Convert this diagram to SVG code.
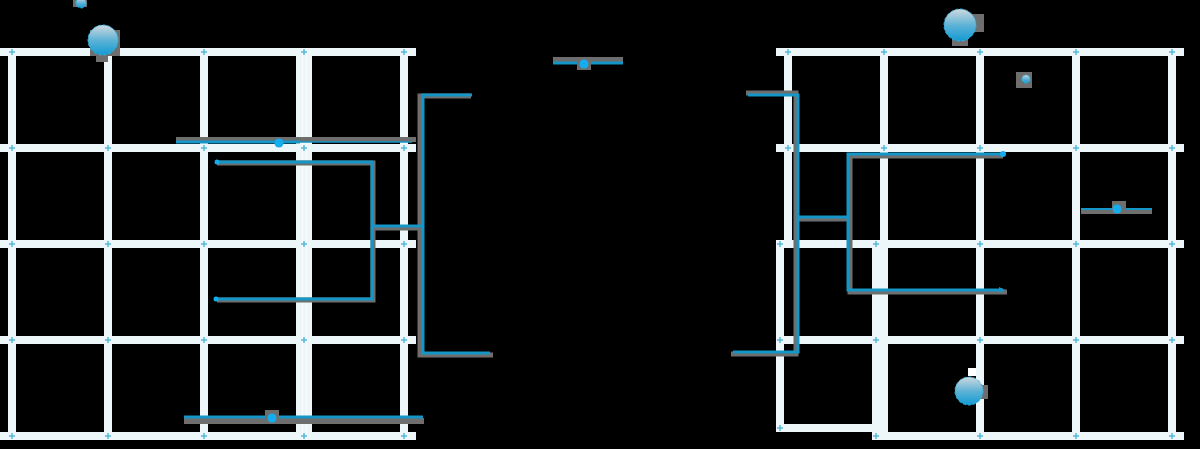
<svg xmlns="http://www.w3.org/2000/svg" width="1200" height="449" viewBox="0 0 1200 449">
<defs>
<linearGradient id="sph" x1="0" y1="0" x2="0" y2="1">
<stop offset="0" stop-color="#cfd9de"/>
<stop offset="0.5" stop-color="#5fb3d6"/>
<stop offset="1" stop-color="#129bd3"/>
</linearGradient>
<marker id="arr" markerWidth="6" markerHeight="6" refX="4" refY="3" orient="auto" markerUnits="userSpaceOnUse">
<path d="M0,0 L6,3 L0,6 Z" fill="#1596c8"/>
</marker>
</defs>
<style>
.g{fill:#edf6f9}
.m{stroke:#5ab8dc;stroke-width:1.5;fill:none}
.sh{stroke:#6e6e6e;stroke-width:5;fill:none;stroke-linejoin:miter}
.bl{stroke:#1596c8;stroke-width:3;fill:none;stroke-linejoin:miter}
.dot{fill:#14aef0}
.shb{fill:#6e6e6e}
.sp{fill:url(#sph);stroke:#2ab6e6;stroke-width:1;stroke-dasharray:3 2}
</style>
<rect width="1200" height="449" fill="#000"/>

<g id="grid-left">
<rect class="g" x="0" y="48" width="416" height="8"/>
<rect class="g" x="0" y="144" width="416" height="8"/>
<rect class="g" x="0" y="240" width="416" height="8"/>
<rect class="g" x="0" y="336" width="416" height="8"/>
<rect class="g" x="0" y="432" width="416" height="8"/>
<rect class="g" x="8" y="48" width="8" height="392"/>
<rect class="g" x="104" y="52" width="8" height="388"/>
<rect class="g" x="200" y="48" width="8" height="392"/>
<rect class="g" x="296" y="48" width="16" height="392"/>
<rect fill="#f8fcfd" x="302" y="48" width="1" height="392"/>
<rect fill="#f8fcfd" x="306" y="48" width="1" height="392"/>
<rect class="g" x="400" y="48" width="8" height="392"/>
<g class="m">
<path d="M9,52h6M12,49v6M105,52h6M108,49v6M201,52h6M204,49v6M301,52h6M304,49v6M401,52h6M404,49v6"/>
<path d="M9,148h6M12,145v6M105,148h6M108,145v6M201,148h6M204,145v6M301,148h6M304,145v6M401,148h6M404,145v6"/>
<path d="M9,244h6M12,241v6M105,244h6M108,241v6M201,244h6M204,241v6M301,244h6M304,241v6M401,244h6M404,241v6"/>
<path d="M9,340h6M12,337v6M105,340h6M108,337v6M201,340h6M204,337v6M301,340h6M304,337v6M401,340h6M404,337v6"/>
<path d="M9,436h6M12,433v6M105,436h6M108,433v6M201,436h6M204,433v6M301,436h6M304,433v6M401,436h6M404,433v6"/>
</g>
</g>

<g id="grid-right">
<rect class="g" x="776" y="48" width="408" height="8"/>
<rect class="g" x="776" y="144" width="408" height="8"/>
<rect class="g" x="776" y="240" width="408" height="8"/>
<rect class="g" x="776" y="336" width="408" height="8"/>
<rect class="g" x="872" y="432" width="312" height="8"/>
<rect class="g" x="776" y="424" width="104" height="8"/>
<rect class="g" x="784" y="48" width="8" height="200"/>
<rect class="g" x="776" y="240" width="8" height="192"/>
<rect class="g" x="880" y="48" width="8" height="392"/>
<rect class="g" x="872" y="240" width="8" height="196"/>
<rect class="g" x="976" y="48" width="8" height="392"/>
<rect class="g" x="1072" y="48" width="8" height="392"/>
<rect class="g" x="1168" y="48" width="8" height="392"/>
<g class="m">
<path d="M785,52h6M788,49v6M881,52h6M884,49v6M977,52h6M980,49v6M1073,52h6M1076,49v6M1169,52h6M1172,49v6"/>
<path d="M785,148h6M788,145v6M881,148h6M884,145v6M977,148h6M980,145v6M1073,148h6M1076,145v6M1169,148h6M1172,145v6"/>
<path d="M777,244h6M780,241v6M873,244h6M876,241v6M977,244h6M980,241v6M1073,244h6M1076,241v6M1169,244h6M1172,241v6"/>
<path d="M777,340h6M780,337v6M873,340h6M876,337v6M977,340h6M980,337v6M1073,340h6M1076,337v6M1169,340h6M1172,337v6"/>
<path d="M777,428h6M780,425v6M873,436h6M876,433v6M977,436h6M980,433v6M1073,436h6M1076,433v6M1169,436h6M1172,433v6"/>
</g>
</g>

<g id="connectors">
<rect class="shb" x="176" y="137" width="240" height="5"/>
<path class="bl" d="M176,142H300"/>
<path stroke="#1596c8" stroke-width="1.5" fill="none" d="M300,142H412"/>

<path class="sh" d="M217,163H373V300H217"/>
<path class="sh" d="M373,228H422"/>
<path class="sh" d="M471,96H420V355H493"/>
<path class="bl" d="M216,162H372V299H216"/>
<path class="bl" d="M372,226H423"/>
<path class="bl" d="M472,95H423V353H490"/>

<rect class="shb" x="553" y="57" width="70" height="6"/>
<path class="bl" d="M553,63H623"/>

<rect class="shb" x="184" y="418" width="240" height="6"/>
<path class="bl" d="M184,417H423"/>

<path class="sh" d="M746,93H796V354H731"/>
<path class="sh" d="M798,219H849"/>
<path class="sh" d="M1003,156H850V292H1007"/>
<path class="bl" d="M748,95H798V352H733"/>
<path class="bl" d="M798,217H848"/>
<path class="bl" d="M1003,154H848V290H1003" marker-end="url(#arr)"/>

<rect class="shb" x="1081" y="210" width="71" height="4"/>
<path stroke="#1596c8" stroke-width="2" fill="none" d="M1081,209H1152"/>
</g>

<g id="dots">
<circle class="dot" cx="279" cy="143" r="4.5"/>
<circle class="dot" cx="217" cy="162" r="2.5"/>
<circle class="dot" cx="216" cy="299" r="2.5"/>
<rect class="shb" x="577" y="58" width="14" height="12"/>
<circle class="dot" cx="584" cy="64" r="4.5"/>
<rect class="shb" x="265" y="410" width="14" height="14"/>
<circle class="dot" cx="272" cy="418" r="4.5"/>
<circle class="dot" cx="1003" cy="154" r="3"/>
<rect class="shb" x="1112" y="201" width="14" height="13"/>
<circle class="dot" cx="1117" cy="209" r="4.5"/>
</g>

<g id="sphere-tl">
<rect class="shb" x="90" y="30" width="30" height="26"/>
<rect class="shb" x="96" y="54" width="12" height="8"/>
<circle class="sp" cx="103" cy="40" r="15"/>
</g>
<g id="sphere-tiny">
<rect class="shb" x="73" y="0" width="14" height="7"/>
<circle class="sp" cx="81" cy="3" r="5"/>
</g>
<g id="sphere-tr">
<rect class="shb" x="948" y="14" width="36" height="18"/>
<rect class="shb" x="952" y="36" width="16" height="10"/>
<circle class="sp" cx="960" cy="25" r="16"/>
</g>
<g id="sphere-small">
<rect class="shb" x="1016" y="72" width="16" height="16"/>
<circle class="sp" cx="1026" cy="79" r="4"/>
</g>
<g id="sphere-br">
<rect class="shb" x="958" y="385" width="30" height="14"/>
<rect fill="#fff" x="968" y="368" width="8" height="8"/>
<circle class="sp" cx="969" cy="391" r="14"/>
</g>
</svg>
